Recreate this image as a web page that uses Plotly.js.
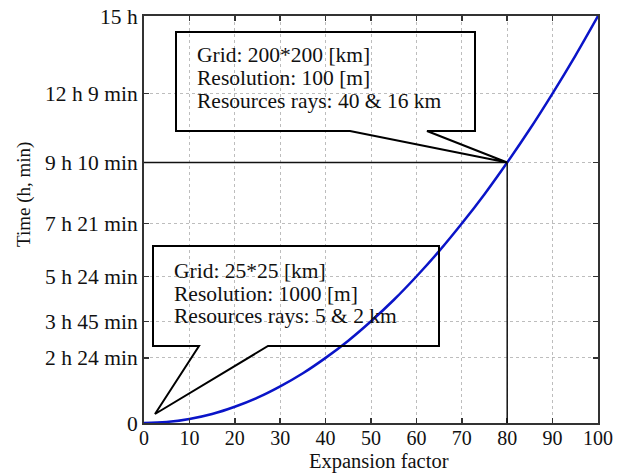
<!DOCTYPE html>
<html>
<head>
<meta charset="utf-8">
<script src="https://cdn.plot.ly/plotly-3.0.1.min.js"></script>
<style>html,body{margin:0;padding:0;background:#fff;}#chart{width:623px;height:475px;}</style>
</head>
<body>
<div id="chart"></div>
<script>
// Data (time in minutes vs expansion factor)
const expansionFactor = [0,5,10,15,20,25,30,35,40,45,50,55,60,65,70,75,80,85,90,95,100];
const timeMinutes = [0,2.3,9,20,36,56,81,110,144,182,225,272,324,380,441,506,576,650,729,812,900];
const yTickVals = [0,144,225,324,441,576,729,900];
const yTickText = ['0','2 h 24 min','3 h 45 min','5 h 24 min','7 h 21 min','9 h 10 min','12 h 9 min','15 h'];
const xTickVals = [0,10,20,30,40,50,60,70,80,90,100];
const box1Lines = ['Grid: 200*200 [km]','Resolution: 100 [m]','Resources rays: 40 &amp; 16 km'];
const box2Lines = ['Grid: 25*25 [km]','Resolution: 1000 [m]','Resources rays: 5 &amp; 2 km'];
const markIndex = 16; // expansion factor 80

// layout geometry (pixels)
const W = 623, H = 475, L = 144, R = 25, T = 16, B = 52;
const pw = W - L - R, ph = H - T - B;
const px2x = p => (p - L) / pw * 100;
const py2y = p => (H - B - p) / ph * 900;

const font = 'Liberation Serif, Times New Roman, serif';
const mx = expansionFactor[markIndex], my = timeMinutes[markIndex];

function callout(x1, x2, yTop, yBot, w1, w2, tipX, tipY) {
  return {
    type: 'path', xref: 'x', yref: 'y',
    path: `M ${x1},${yBot} L ${w1},${yBot} L ${tipX},${tipY} L ${w2},${yBot} L ${x2},${yBot} L ${x2},${yTop} L ${x1},${yTop} Z`,
    line: {color: '#000', width: 2}, fillcolor: 'rgba(0,0,0,0)'
  };
}

const shapes = [
  {type: 'line', xref: 'x', yref: 'y', x0: 0, x1: mx, y0: my, y1: my, line: {color: '#111', width: 1.5}},
  {type: 'line', xref: 'x', yref: 'y', x0: mx, x1: mx, y0: 0, y1: my, line: {color: '#111', width: 1.5}},
  callout(px2x(176), px2x(475), py2y(32), py2y(131), px2x(350), px2x(427), mx, my),
  callout(px2x(153), px2x(439), py2y(246), py2y(346), px2x(199), px2x(268), px2x(155), py2y(414))
];

const annotations = [];
const b1c = [55, 78, 101];
box1Lines.forEach((t, i) => annotations.push({
  text: t, xref: 'x', yref: 'y', x: px2x(195), y: py2y(b1c[i]), xanchor: 'left', yanchor: 'middle',
  showarrow: false, font: {family: font, size: 21.5, color: '#111'}
}));
const b2c = [271, 294, 316];
box2Lines.forEach((t, i) => annotations.push({
  text: t, xref: 'x', yref: 'y', x: px2x(172), y: py2y(b2c[i]), xanchor: 'left', yanchor: 'middle',
  showarrow: false, font: {family: font, size: 21.5, color: '#111'}
}));
annotations.push({
  text: 'Expansion factor', xref: 'paper', yref: 'paper', x: (379 - L) / pw, y: (H - B - 461) / ph,
  xanchor: 'center', yanchor: 'middle', showarrow: false, borderpad: 0, font: {family: font, size: 20.5, color: '#111'}
});
annotations.push({
  text: 'Time (h, min)', xref: 'paper', yref: 'paper', x: (24 - L) / pw, y: (H - B - 195) / ph,
  xanchor: 'center', yanchor: 'middle', textangle: -90, showarrow: false, font: {family: font, size: 19, color: '#111'}
});

const trace = {
  x: expansionFactor, y: timeMinutes, type: 'scatter', mode: 'lines',
  line: {color: '#0a14c8', width: 2.5, shape: 'spline'}, hoverinfo: 'skip'
};

const axisCommon = {
  showline: true, linecolor: '#333', linewidth: 2, mirror: 'allticks',
  ticks: 'inside', ticklen: 5, tickwidth: 1.5, tickcolor: '#333',
  showgrid: true, gridcolor: '#bdbdbd', gridwidth: 1, griddash: 'dot',
  zeroline: false, fixedrange: true
};

const layout = {
  width: W, height: H,
  margin: {l: L, r: R, t: T, b: B},
  paper_bgcolor: '#fff', plot_bgcolor: '#fff',
  showlegend: false,
  xaxis: Object.assign({}, axisCommon, {range: [0, 100], tickvals: xTickVals, ticktext: xTickVals.map(String),
    ticklabelstandoff: -4, tickfont: {family: font, size: 20, color: '#111'}}),
  yaxis: Object.assign({}, axisCommon, {range: [0, 900], tickvals: yTickVals, ticktext: yTickText,
    tickfont: {family: font, size: 21.5, color: '#111'}}),
  shapes: shapes,
  annotations: annotations
};

Plotly.newPlot('chart', [trace], layout, {displayModeBar: false, staticPlot: true});
</script>
</body>
</html>
